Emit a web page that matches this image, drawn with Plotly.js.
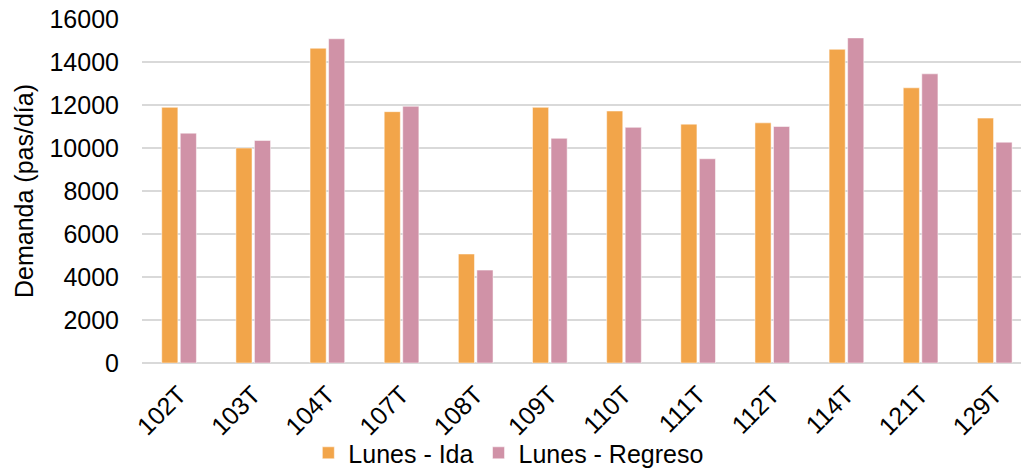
<!DOCTYPE html>
<html>
<head>
<meta charset="utf-8">
<script src="https://cdn.plot.ly/plotly-3.0.1.min.js"></script>
<style>html,body{margin:0;padding:0;background:#fff;}#chart{width:1021px;height:469px;}</style>
</head>
<body>
<div id="chart"></div>
<script>
const categories = ["102T","103T","104T","107T","108T","109T","110T","111T","112T","114T","121T","129T"];
const lunesIda = [11890, 10000, 14640, 11690, 5070, 11890, 11720, 11110, 11170, 14590, 12800, 11390];
const lunesRegreso = [10690, 10350, 15080, 11940, 4320, 10450, 10960, 9500, 11000, 15120, 13450, 10270];
const seriesNames = ["Lunes - Ida", "Lunes - Regreso"];
const yTicks = [0, 2000, 4000, 6000, 8000, 10000, 12000, 14000, 16000];

const FONT = '"Liberation Sans", Arial, sans-serif';
const traces = [
  {type:'bar', name: seriesNames[0], x: categories, y: lunesIda,
   marker:{color:'#F2A54A', line:{color:'rgba(255,255,255,0.5)', width:1}}},
  {type:'bar', name: seriesNames[1], x: categories, y: lunesRegreso,
   marker:{color:'#D092A7', line:{color:'rgba(255,255,255,0.5)', width:1}}}
];
const layout = {
  width:1021, height:469,
  margin:{l:142, r:0, t:19, b:106, pad:0, autoexpand:false},
  paper_bgcolor:'#fff', plot_bgcolor:'#fff',
  font:{family:FONT, size:25, color:'#000'},
  barmode:'group', bargap:0.5, bargroupgap:0.13,
  showlegend:true,
  legend:{orientation:'h', xref:'container', yref:'container', x:0.302, xanchor:'left', y:0.034, yanchor:'middle',
          font:{family:FONT, size:25, color:'#000'}, bgcolor:'rgba(0,0,0,0)', itemclick:false},
  xaxis:{type:'category', range:[-0.5, 11.354], tickangle:-45, showgrid:false, showline:false, automargin:false,
         zeroline:false, ticks:'', ticklabelstandoff:11, tickfont:{family:FONT, size:25, color:'#000'}, fixedrange:true},
  yaxis:{range:[0,16000], tickvals:yTicks, ticktext:yTicks.map(String), showgrid:true, gridcolor:'#D9D9D9', gridwidth:1.5,
         zeroline:true, zerolinecolor:'#D9D9D9', zerolinewidth:1.5, showline:false, ticks:'', automargin:false,
         ticklabelstandoff:22, tickfont:{family:FONT, size:25, color:'#000'},
         title:{text:'Demanda (pas/día)', font:{family:FONT, size:25, color:'#000'}, standoff:8}, fixedrange:true}
};
Plotly.newPlot('chart', traces, layout, {staticPlot:true, displayModeBar:false});
</script>
</body>
</html>
